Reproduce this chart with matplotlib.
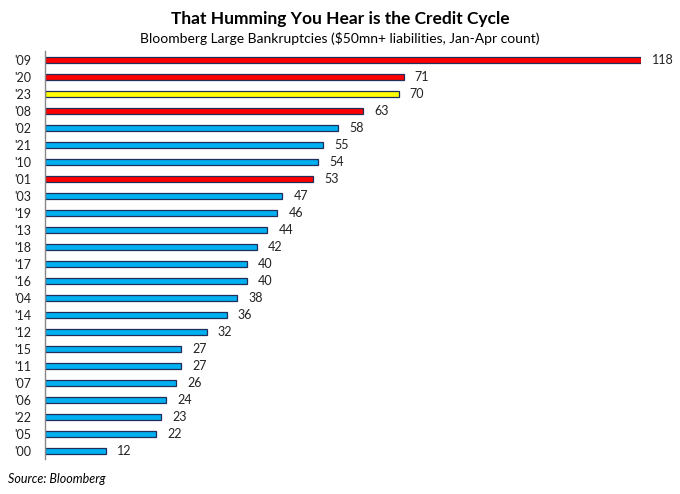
import matplotlib
matplotlib.use("Agg")
from matplotlib import pyplot as plt
import numpy as np

plt.rcParams['font.family'] = ['Lato', 'DejaVu Sans']

years = ["'09", "'20", "'23", "'08", "'02", "'21", "'10", "'01", "'03", "'19", "'13", "'18",
         "'17", "'16", "'04", "'14", "'12", "'15", "'11", "'07", "'06", "'22", "'05", "'00"]
counts = [118, 71, 70, 63, 58, 55, 54, 53, 47, 46, 44, 42, 40, 40, 38, 36, 32, 27, 27, 26, 24, 23, 22, 12]
recession = ["'09", "'20", "'08", "'01"]
current = "'23"

colors = []
for y in years:
    if y == current:
        colors.append('#FFFF00')
    elif y in recession:
        colors.append('#FF0000')
    else:
        colors.append('#00B0F0')

fig = plt.figure(figsize=(6.8, 4.94), dpi=100)
ax = fig.add_axes([0.066, 0.070, 0.877, 0.826])

pos = np.arange(len(years))
ax.barh(pos, counts, height=0.38, color=colors, edgecolor='#1F2F5A', linewidth=0.9)
for p, v in zip(pos, counts):
    ax.text(v + 2.2, p, str(v), va='center', ha='left', fontsize=9, color='#222222')

ax.set_ylim(len(years) - 0.5, -0.5)
ax.set_xlim(0, 118)
ax.set_yticks(pos)
ax.set_yticklabels(years, fontsize=9, color='#222222')
ax.tick_params(axis='y', length=0, pad=10)
ax.set_xticks([])
for s in ['top', 'right', 'bottom']:
    ax.spines[s].set_visible(False)
ax.spines['left'].set_color('#888888')
ax.spines['left'].set_linewidth(1)

fig.text(0.5, 0.962, 'That Humming You Hear is the Credit Cycle', ha='center', va='center',
         fontsize=12.5, fontweight='bold')
fig.text(0.5, 0.922, 'Bloomberg Large Bankruptcies ($50mn+ liabilities, Jan-Apr count)', ha='center',
         va='center', fontsize=10)
fig.text(0.012, 0.03, 'Source: Bloomberg', ha='left', va='center', fontsize=9, style='italic')

fig.savefig('out.png', dpi=100)
